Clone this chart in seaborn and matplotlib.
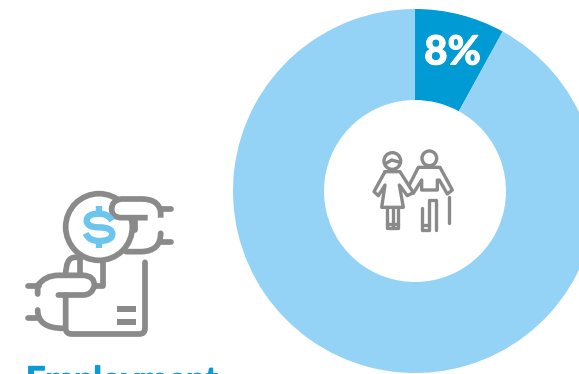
import matplotlib
matplotlib.use("Agg")
import matplotlib.pyplot as plt
import matplotlib.patheffects as pe
from matplotlib.path import Path
from matplotlib.patches import PathPatch, Circle, Rectangle
import seaborn as sns

shares = [8, 92]
share_labels = ["8%", ""]
caption = "Employment"
slice_colors = ["#009ad5", "#94d3f6"]
icon_gray = "#8a8a8a"
dollar_blue = "#6cc5ee"

W, H = 579, 374
sns.set_theme(style="white")
fig = plt.figure(figsize=(W / 100, H / 100), dpi=100, facecolor="white")
ax = fig.add_axes([0, 0, 1, 1])

# Donut: pixel-based data coordinates with y measured upward
wedges, _ = ax.pie(
    shares,
    colors=sns.color_palette(slice_colors),
    center=(415, H - 191),
    radius=182,
    startangle=90,
    counterclock=False,
    wedgeprops=dict(width=91, linewidth=0),
)
ax.set_xlim(0, W)
ax.set_ylim(0, H)
ax.set_aspect("equal")
ax.axis("off")

ax.text(452.5, H - 53, share_labels[0], color="white", fontsize=29, family="Lato",
        fontweight="black", ha="center", va="center",
        path_effects=[pe.withStroke(linewidth=0.7, foreground="white")])
ax.text(26, H - 391, caption, color="#0a9ad6", fontsize=24.5, family="Lato",
        fontweight="bold", ha="left", va="baseline", clip_on=True,
        path_effects=[pe.withStroke(linewidth=0.9, foreground="#0a9ad6")])


def stroke(points, ox, oy, lw, color=icon_gray, fill="none", zorder=3, cap="round"):
    """Draw a stroke through 3x-scaled icon points; a 4-tuple marks a quadratic curve."""
    verts, codes = [], []
    for i, p in enumerate(points):
        if len(p) == 4:
            verts += [(p[0], p[1]), (p[2], p[3])]
            codes += [Path.CURVE3, Path.CURVE3]
        else:
            verts.append(p)
            codes.append(Path.MOVETO if i == 0 else Path.LINETO)
    verts = [(ox + x / 3, H - (oy + y / 3)) for x, y in verts]
    ax.add_patch(PathPatch(Path(verts, codes), facecolor=fill, edgecolor=color, lw=lw,
                           capstyle=cap, joinstyle="round", zorder=zorder))


# Hands passing a coin
ox, oy = 0, 170
lw = 4.1
ax.add_patch(Circle((ox + 297 / 3, H - (oy + 171 / 3)), 100 / 3, fill=False,
                    edgecolor=icon_gray, lw=lw, zorder=2))
# thumb sits over the coin rim
stroke([(443, 143), (365, 143), (335, 143, 335, 118), (335, 90, 365, 87), (425, 87),
        (475, 87, 482, 125), (482, 143)], ox, oy, lw, fill="white", cap="butt")
hand_strokes = [
    [(482, 117), (513, 117)],
    [(482, 190), (482, 243, 425, 245), (378, 245)],
    [(482, 215), (513, 215)],
    [(405, 143), (405, 180)],
    [(84, 347), (118, 347)],
    [(113, 372), (113, 347), (135, 316, 175, 316), (250, 316), (285, 318, 283, 348), (275, 375, 250, 375), (175, 375)],
    [(113, 420), (113, 475, 190, 475)],
    [(84, 445), (113, 445)],
    [(197, 375), (197, 475), (197, 492, 215, 492), (418, 492), (435, 492, 435, 475), (435, 277)],
    [(197, 316), (197, 262, 225, 262), (240, 262)],
    [(240, 262), (240, 316)],
    [(308, 278), (308, 347), (285, 347)],
]
for pts in hand_strokes:
    stroke(pts, ox, oy, lw)
for top, bottom in [(408, 425), (446, 465)]:
    ax.add_patch(Rectangle((ox + 351 / 3, H - (oy + bottom / 3)), 57 / 3, (bottom - top) / 3,
                           facecolor=icon_gray, edgecolor="none", zorder=3))
dollar = [(336, 152), (326, 131, 297, 131), (260, 131, 260, 152), (260, 172, 297, 172),
          (337, 172, 337, 192), (337, 213, 297, 213), (267, 213, 257, 190)]
stroke(dollar, ox, oy, 4.6, dollar_blue, cap="butt")
stroke([(297, 107), (297, 131)], ox, oy, 4.6, dollar_blue, cap="butt")
stroke([(297, 213), (297, 235)], ox, oy, 4.6, dollar_blue, cap="butt")

# Elderly couple
ox, oy = 350, 130
lw = 2.4
for cx, cy, r in [(127, 93, 25), (238, 85, 22)]:
    ax.add_patch(Circle((ox + cx / 3, H - (oy + cy / 3)), r / 3, fill=False,
                        edgecolor=icon_gray, lw=lw))
couple_strokes = [
    [(105, 102), (125, 90), (150, 97)],
    [(105, 125), (150, 125), (190, 188), (172, 197), (148, 165), (160, 232), (95, 232),
     (105, 165), (85, 197), (72, 185), (105, 125)],
    [(112, 232), (112, 295), (145, 295), (145, 232)],
    [(128, 232), (128, 295)],
    [(112, 282), (145, 282)],
    [(178, 165), (205, 112), (270, 112), (307, 180), (292, 192), (268, 150)],
    [(190, 190), (215, 150), (215, 180), (262, 180), (262, 150)],
    [(215, 235), (215, 300), (238, 300), (238, 210), (258, 210), (258, 300)],
    [(215, 285), (238, 285)],
    [(297, 200), (297, 280)],
    [(297, 300), (297, 301)],
    [(215, 218), (215, 219)],
]
for pts in couple_strokes:
    stroke(pts, ox, oy, lw)

fig.savefig("out.png", dpi=100, facecolor="white")
